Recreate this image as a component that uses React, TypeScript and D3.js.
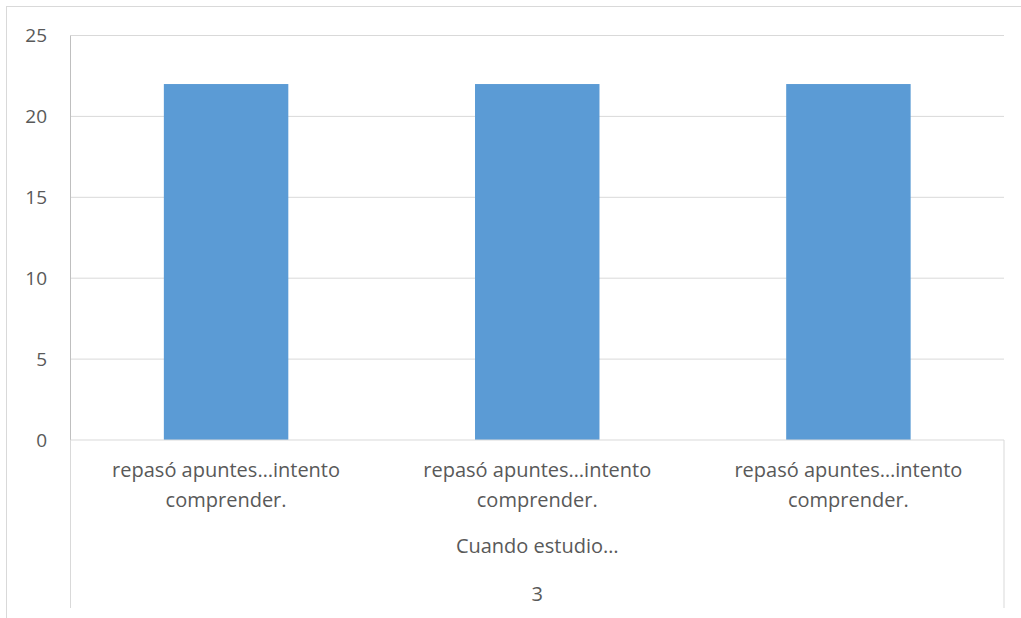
import React from "react";
import * as d3 from "d3";

const categories = ["repasó apuntes…intento comprender.", "repasó apuntes…intento comprender.", "repasó apuntes…intento comprender."];
const values = [22, 22, 22];
const yTicks = [0, 5, 10, 15, 20, 25];
const groupLabel = "Cuando estudio…";
const outerLabel = "3";

const W = 1021;
const H = 618;
const left = 70.5;
const right = 1004;
const top = 35.5;
const bottom = 440;
const textColor = "#595959";
const font = "'Open Sans', 'Liberation Sans', Arial, sans-serif";

export default function App() {
  const x = d3.scaleBand<number>().domain(d3.range(categories.length)).range([left, right]).paddingInner(0.6).paddingOuter(0.3);
  const xc = d3.scaleBand<number>().domain(d3.range(categories.length)).range([left, right]);
  const y = d3.scaleLinear().domain([0, 25]).range([bottom, top]);

  return (
    <svg width={W} height={H} style={{ position: "absolute", left: 0, top: 0, background: "#fff" }} fontFamily={font}>
      <rect x={6.5} y={6.5} width={W + 10} height={H + 10} fill="#fff" stroke="#d9d9d9" strokeWidth={1} />
      {yTicks.map((t) => (
        <g key={t}>
          {t > 0 && <line x1={left} x2={right} y1={y(t)} y2={y(t)} stroke="#d9d9d9" strokeWidth={1} />}
          <text x={47} y={y(t)} dy="0.36em" textAnchor="end" fontSize={19} fill={textColor}>{t}</text>
        </g>
      ))}
      {values.map((v, i) => (
        <rect key={i} x={x(i)!} y={y(v)} width={x.bandwidth()} height={y(0) - y(v)} fill="#5B9BD5" />
      ))}
      <line x1={left} x2={left} y1={top} y2={bottom} stroke="#bfbfbf" strokeWidth={1} />
      <line x1={left} x2={right} y1={bottom} y2={bottom} stroke="#d9d9d9" strokeWidth={1.2} />
      <line x1={left} x2={left} y1={bottom} y2={608} stroke="#d9d9d9" strokeWidth={1} />
      <line x1={right} x2={right} y1={bottom} y2={608} stroke="#d9d9d9" strokeWidth={1} />
      {categories.map((c, i) => {
        const cx = xc(i)! + xc.bandwidth() / 2;
        const parts = c.split(" ");
        const l1 = parts.slice(0, 2).join(" ");
        const l2 = parts.slice(2).join(" ");
        return (
          <text key={i} x={cx} textAnchor="middle" fontSize={20} fill={textColor}>
            <tspan x={cx} y={477}>{l1}</tspan>
            <tspan x={cx} y={507}>{l2}</tspan>
          </text>
        );
      })}
      <text x={(left + right) / 2} y={553} textAnchor="middle" fontSize={20} fill={textColor}>{groupLabel}</text>
      <text x={(left + right) / 2} y={601} textAnchor="middle" fontSize={20} fill={textColor}>{outerLabel}</text>
    </svg>
  );
}
